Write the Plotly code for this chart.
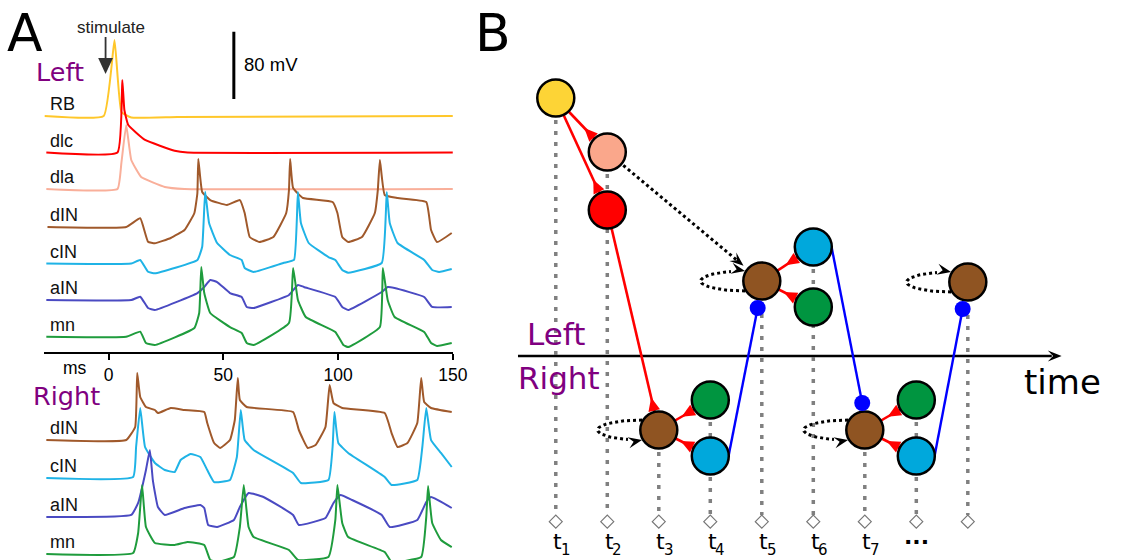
import math
import numpy as np
import plotly.graph_objects as go

W, H = 1124, 560

# ======================= Panel A data (time in ms, voltage in mV re rest) =======================
rb_t = [-27.9, -2.1, 2.6, 5.6, 9.9, 30.0, 150.0]
rb_v = [0, 0, 90.5, 4.8, -1.8, -1.2, 0]

dlc_t = [-27.1, 3.9, 6.0, 6.9, 8.6, 15.9, 28.8, 34.4, 150.0]
dlc_v = [0, 0, 86.3, 50.6, 32.7, 14.9, 2.1, 0, 0]

dla_t = [-27.1, 3.9, 5.6, 7.7, 9.9, 14.2, 24.5, 33.1, 150.0]
dla_v = [0, 0, 31.0, 76.2, 34.5, 14.3, 2.4, 0, 0]

l_din_t = [-26.6, 7.7, 13.8, 17.2, 20.2, 27.1, 33.1, 37.4, 38.7, 39.1, 40.8, 44.3, 51.6, 57.2,
           59.3, 61.5, 65.7, 71.8, 77.4, 78.6, 79.1, 80.4, 84.7, 97.6, 99.7, 101.8, 104.4, 110.4,
           116.0, 117.3, 118.2, 120.3, 125.9, 138.4, 140.5, 143.1, 149.5]
l_din_v = [0, 0, 10.4, -17.5, -19.4, -13.1, -3.6, 16.7, 40.5, 81.0, 41.7, 32.1, 26.2, 32.1,
           16.7, -11.9, -17.9, -11.9, 16.7, 44.0, 81.0, 46.4, 34.5, 29.8, 16.7, -11.9, -17.9, -11.9,
           16.7, 44.0, 79.8, 38.1, 34.5, 29.8, -3.6, -17.9, -7.1]

l_cin_t = [-27.1, 9.9, 13.8, 17.2, 20.2, 38.7, 40.8, 42.1, 43.8, 47.3, 52.9, 58.0, 59.3, 63.2,
           76.1, 80.8, 82.5, 83.8, 87.2, 95.8, 98.8, 101.8, 104.4, 119.0, 121.2, 122.5, 125.9,
           137.5, 141.0, 144.0, 149.5]
l_cin_v = [0, 0, 4.2, -9.8, -11.7, 4.2, 20.0, 85.4, 48.2, 24.4, 10.1, 4.2, -5.4, -10.1,
           0.6, 4.2, 85.1, 48.2, 24.4, 7.7, 4.2, -7.7, -10.9, 0.6, 85.1, 48.2, 24.4,
           4.2, -7.7, -10.1, -6.5]

l_ain_t = [-27.1, 9.9, 13.8, 17.2, 20.2, 38.7, 41.7, 44.3, 47.3, 52.9, 58.0, 60.2, 63.2, 78.6,
           82.5, 85.1, 98.8, 101.8, 104.4, 119.0, 121.6, 124.6, 137.5, 141.0, 149.5]
l_ain_v = [0, 0, 3.9, -9.5, -11.9, 8.3, 15.5, 23.8, 21.4, 8.3, 3.6, -8.3, -9.5, 6.0,
           17.9, 15.5, 3.6, -8.3, -11.9, 9.5, 15.5, 14.3, 3.6, -8.3, -8.3]

l_mn_t = [-27.1, 7.7, 13.8, 16.3, 20.2, 37.4, 39.5, 40.4, 41.7, 44.3, 52.9, 58.0, 60.2, 63.2,
          78.6, 80.4, 82.5, 85.9, 98.8, 102.3, 104.4, 118.2, 119.5, 121.6, 124.6, 137.5, 140.5,
          143.1, 149.5]
l_mn_v = [0, 0, 6.0, -7.5, -9.9, 10.4, 28.2, 82.9, 52.0, 28.2, 11.5, 4.4, -7.5, -9.9,
          16.3, 81.8, 43.7, 23.4, 5.6, -9.9, -12.3, 11.5, 81.8, 43.7, 23.4, 5.6, -7.5,
          -11.1, -7.5]

r_din_t = [-27.1, 7.7, 11.6, 12.5, 13.8, 16.3, 20.2, 21.5, 27.1, 33.1, 41.7, 43.0, 46.0, 48.6,
           52.9, 55.0, 56.3, 57.2, 60.2, 80.4, 82.9, 86.8, 90.2, 94.5, 96.3, 98.0, 101.8, 120.3,
           123.3, 125.9, 130.2, 134.5, 136.2, 137.5, 140.5, 149.5]
r_din_v = [0, 0, 15.5, 79.8, 51.2, 39.3, 35.7, 32.1, 38.1, 35.7, 33.3, 20.2, -3.6, -9.5,
           0, 23.8, 73.8, 47.6, 39.3, 33.3, 11.9, -9.5, -6.0, 15.5, 65.5, 44.0, 38.1, 32.1,
           8.3, -8.3, -3.6, 20.2, 73.8, 45.2, 38.1, 33.3]

r_cin_t = [-27.1, 10.7, 12.0, 13.8, 15.9, 20.2, 24.5, 28.8, 31.4, 35.7, 40.0, 43.0, 46.0, 52.9,
           55.9, 57.6, 59.3, 63.2, 80.4, 83.8, 95.8, 97.6, 98.4, 100.1, 104.4, 120.3, 123.3,
           134.5, 136.7, 138.4, 140.5, 144.8, 149.5]
r_cin_v = [0, 1.2, 36.9, 83.3, 36.9, 17.9, 9.5, 7.1, 21.4, 28.6, 25.0, 9.5, -4.8, -2.4,
           25.0, 81.0, 45.2, 33.3, 6.0, -6.0, -2.4, 36.9, 78.5, 41.7, 29.8, 1.2, -8.3,
           -2.4, 36.9, 83.3, 45.2, 29.8, 13.1]

r_ain_t = [-27.1, 9.9, 12.9, 16.3, 18.0, 19.3, 21.5, 24.5, 33.1, 40.0, 41.7, 43.4, 47.3, 54.6,
           57.2, 61.0, 67.5, 80.4, 82.9, 94.5, 98.0, 101.0, 106.1, 119.0, 122.5, 134.5, 138.4,
           140.5, 149.5]
r_ain_v = [0, 2.4, 16.7, 56.0, 79.8, 44.0, 11.9, 2.4, 10.7, 14.3, 10.7, -9.5, -11.9, -3.6,
           11.9, 28.6, 23.8, 2.4, -9.5, -1.2, 16.7, 26.2, 20.2, 2.4, -11.9, -3.6, 17.9,
           23.8, 10.7]

r_mn_t = [-27.1, 10.7, 12.9, 14.6, 16.3, 20.2, 28.8, 34.4, 41.7, 44.3, 47.3, 54.6, 57.2, 58.9,
          61.0, 63.2, 78.6, 82.5, 95.8, 98.8, 99.7, 101.8, 104.4, 120.3, 123.3, 136.2, 138.4,
          139.2, 141.0, 144.8, 149.5]
r_mn_v = [0, 1.2, 25.0, 82.1, 32.1, 13.1, 10.7, 14.3, 10.7, -7.1, -9.5, -3.6, 32.1, 82.1,
          32.1, 20.2, 4.8, -7.1, -3.6, 40.5, 82.1, 36.9, 20.2, 2.4, -9.5, -3.6, 44.0,
          80.9, 36.9, 16.7, 8.3]

left_names = ["RB", "dlc", "dla", "dIN", "cIN", "aIN", "mn"]
right_names = ["dIN", "cIN", "aIN", "mn"]
left_series = [(rb_t, rb_v), (dlc_t, dlc_v), (dla_t, dla_v), (l_din_t, l_din_v),
               (l_cin_t, l_cin_v), (l_ain_t, l_ain_v), (l_mn_t, l_mn_v)]
right_series = [(r_din_t, r_din_v), (r_cin_t, r_cin_v), (r_ain_t, r_ain_v), (r_mn_t, r_mn_v)]
ms_ticks = [0, 50, 100, 150]
scale_bar_mV = 80

# ----- styles / layout (panel A) -----
trace_colors = {"RB": "#FFC72A", "dlc": "#FF0000", "dla": "#F9AF9A", "dIN": "#A0592B",
                "cIN": "#1FB3E6", "aIN": "#4A4AC2", "mn": "#1F9C3D"}
PX_PER_MV = 0.84
left_base_px = [116, 152.5, 189, 227, 263.5, 300, 336.7]
right_base_px = [440, 478, 517, 554]
X_AXIS_PX = 353


def base_to_mv(p):
    return (H - p) / PX_PER_MV


def P(x, y):
    return x / W, 1 - y / H


fig = go.Figure()
annotations = []
LABEL_FONT = dict(family="Liberation Sans", size=18, color="#111")

for names, series, bases in [(left_names, left_series, left_base_px),
                             (right_names, right_series, right_base_px)]:
    for name, (tt, vv), bp in zip(names, series, bases):
        off = base_to_mv(bp)
        fig.add_trace(go.Scatter(x=tt, y=[off + v for v in vv], mode="lines",
                                 line=dict(color=trace_colors[name], width=2, shape="spline",
                                           smoothing=0.35),
                                 xaxis="x", yaxis="y", hoverinfo="skip"))
        annotations.append(dict(text=name, xref="paper", yref="y", x=49 / W, y=off, yshift=12,
                                xanchor="left", yanchor="middle", showarrow=False, font=LABEL_FONT))

# scale bar
sb_x = (237 - 110) / 2.3267
sb_y0 = base_to_mv(99)
fig.add_trace(go.Scatter(x=[sb_x, sb_x], y=[sb_y0, sb_y0 + scale_bar_mV], mode="lines",
                         line=dict(color="black", width=3), xaxis="x", yaxis="y", hoverinfo="skip"))

# ======================= Panel B data (diagram) =======================
node_t = [1, 2, 2, 5, 6, 6, 3, 4, 4, 7, 8, 8, 9]
node_level = [462, 408, 350, 279, 313, 253, 130, 160, 104, 130, 160, 104, 278]
node_kind = ["RB", "dla", "dlc", "dIN", "cIN", "mn", "dIN", "mn", "cIN", "dIN", "mn", "cIN", "dIN"]
excit_edges = [(0, 1), (0, 2), (2, 6), (3, 4), (3, 5), (6, 7), (6, 8), (9, 10), (9, 11)]
inhib_src = [8, 4, 11]
dot_t = [4.92, 6.95, 8.9]
dot_level = [252, 157, 251]
dotted_edges = [(1, 3)]
loop_nodes = [3, 6, 9, 12]
loop_arrow_top = [True, False, False, True]
step_t = [1, 2, 3, 4, 5, 6, 7, 8, 9]
step_sub = ["1", "2", "3", "4", "5", "6", "7", None, None]
ellipsis_step = 8

node_colors = {"RB": "#FDD436", "dla": "#FAA78B", "dlc": "#FF0000", "dIN": "#8F5422",
               "cIN": "#00A8DC", "mn": "#009540"}

PX0, PXS = 563.3, 52.2
R = 19.5


def to_px(t, lv):
    return PX0 + PXS * (t - 1), H - lv


def to_data(px, py):
    return 1 + (px - PX0) / PXS, H - py


def add_poly(pts, color):
    d = [to_data(*p) for p in pts]
    fig.add_trace(go.Scatter(x=[q[0] for q in d], y=[q[1] for q in d], mode="lines",
                             fill="toself", fillcolor=color, line=dict(width=0, color=color),
                             xaxis="x2", yaxis="y2", hoverinfo="skip"))


def add_line(pts, color, width, dash="solid"):
    d = [to_data(*p) for p in pts]
    fig.add_trace(go.Scatter(x=[q[0] for q in d], y=[q[1] for q in d], mode="lines",
                             line=dict(color=color, width=width, dash=dash),
                             xaxis="x2", yaxis="y2", hoverinfo="skip"))


def stealth(tip, d, L=14, Wd=11, notch=0.62):
    dx, dy = d
    nx, ny = -dy, dx
    return [tip,
            (tip[0] - L * dx + Wd / 2 * nx, tip[1] - L * dy + Wd / 2 * ny),
            (tip[0] - notch * L * dx, tip[1] - notch * L * dy),
            (tip[0] - L * dx - Wd / 2 * nx, tip[1] - L * dy - Wd / 2 * ny),
            tip]


def unit(a, b):
    dx, dy = b[0] - a[0], b[1] - a[1]
    n = math.hypot(dx, dy)
    return dx / n, dy / n


npx = [to_px(t, lv) for t, lv in zip(node_t, node_level)]
dpx = [to_px(t, lv) for t, lv in zip(dot_t, dot_level)]

# stimulate arrow (panel A, drawn on the full-canvas overlay)
add_line([(107, 37), (107, 62)], "#333333", 1.8)
add_poly(stealth((107, 74), (0, 1), L=16, Wd=15, notch=1.0), "#333333")

# Left/Right divider with arrow (time axis)
ax_y = 356
add_line([(525, ax_y), (1066, ax_y)], "black", 2.5)
add_poly(stealth((1076, ax_y), (1, 0), L=14, Wd=11), "black")

# gray dotted vertical guides
for t in step_t:
    tops = [lv for nt, lv in zip(node_t, node_level) if nt == t]
    top_px = to_px(t, max(tops))
    add_line([top_px, (top_px[0], 515)], "#808080", 3.5, dash="4px,7px")

# diamonds
fig.add_trace(go.Scatter(x=step_t, y=[H - 521.7] * len(step_t), mode="markers",
                         marker=dict(symbol="diamond-open", size=10, color="#777",
                                     line=dict(width=1.2, color="#777")),
                         xaxis="x2", yaxis="y2", hoverinfo="skip"))

# excitatory red edges
for s, d in excit_edges:
    S, D = npx[s], npx[d]
    add_line([S, D], "#FF0000", 2.6)
    u = unit(D, S)
    nx, ny = -u[1], u[0]
    b = (D[0] + u[0] * (R + 0.5), D[1] + u[1] * (R + 0.5))
    a = (D[0] + u[0] * (R + 14), D[1] + u[1] * (R + 14))
    add_poly([a, (b[0] + 6 * nx, b[1] + 6 * ny), (b[0] - 6 * nx, b[1] - 6 * ny), a], "#FF0000")

# inhibitory blue edges
for s, dp in zip(inhib_src, dpx):
    S = npx[s]
    add_line([(S[0] + R - 1, S[1]), dp], "#0000FF", 2.4)

# dotted black arrows
for s, d in dotted_edges:
    S, D = npx[s], npx[d]
    u = unit(S, D)
    st = (S[0] + u[0] * 21, S[1] + u[1] * 21)
    tip = (D[0] - u[0] * 24, D[1] - u[1] * 24)
    add_line([st, (tip[0] - u[0] * 8, tip[1] - u[1] * 8)], "black", 3, dash="3px,3px")
    add_poly(stealth(tip, u), "black")

# self loops
for ni, top in zip(loop_nodes, loop_arrow_top):
    cx, cy = npx[ni]
    phis = np.linspace(90, -90, 40) if top else np.linspace(-90, 90, 40)
    pts = [(cx - 17 - 45 * math.cos(math.radians(p)), cy + 10 * math.sin(math.radians(p)))
           for p in phis]
    tip = pts[-1]
    dv = (1, 0.2 if (cy - tip[1]) > 0 else -0.2)
    nrm = math.hypot(*dv)
    dv = (dv[0] / nrm, dv[1] / nrm)
    add_line(pts[:-4], "black", 3, dash="3px,3px")
    add_poly(stealth(tip, dv), "black")

# neuron circles
fig.add_trace(go.Scatter(x=node_t, y=node_level, mode="markers",
                         marker=dict(size=37, color=[node_colors[k] for k in node_kind],
                                     line=dict(color="black", width=2.5)),
                         xaxis="x2", yaxis="y2", hoverinfo="skip"))
# inhibitory synapse dots
fig.add_trace(go.Scatter(x=dot_t, y=dot_level, mode="markers",
                         marker=dict(size=16, color="#0000FF", line=dict(width=0)),
                         xaxis="x2", yaxis="y2", hoverinfo="skip"))

# ======================= Text =======================
def txt(s, x, y, size, family="DejaVu Sans", color="black", xanchor="center", weight="normal"):
    px, py = P(x, y)
    annotations.append(dict(text=s, xref="paper", yref="paper", x=px, y=py, xanchor=xanchor,
                            yanchor="middle", showarrow=False,
                            font=dict(family=family, size=size, color=color, weight=weight)))


txt("A", 25, 33, 52)
txt("B", 500, 33, 52)
txt("stimulate", 112, 27, 17, family="Liberation Sans", color="#222")
txt("80 mV", 245, 64, 18.5, family="Liberation Sans", xanchor="left")
txt("Left", 61, 72, 25.5, color="#800080")
txt("Right", 67, 396, 25.5, color="#800080")
txt("ms", 76, 368, 17.5, family="Liberation Sans")
txt("Left", 564, 334, 31, color="#800080")
txt("Right", 567, 378, 31, color="#800080")
txt("time", 1077, 382, 34)
for t, sub in zip(step_t, step_sub):
    x, _ = to_px(t, 0)
    if sub is not None:
        txt("t", x + 2, 541, 22)
        txt(sub, x + 10, 550, 15)
    elif t == ellipsis_step:
        txt("...", x, 536, 22, weight="bold")

xr2 = [to_data(0, 0)[0], to_data(W, 0)[0]]
fig.update_layout(
    width=W, height=H, autosize=False, margin=dict(l=0, r=0, t=0, b=0, pad=0),
    paper_bgcolor="white", plot_bgcolor="rgba(0,0,0,0)", showlegend=False,
    xaxis=dict(domain=[45 / W, 459 / W], range=[-27.94, 150], anchor="free",
               position=(H - X_AXIS_PX) / H, showline=True, linecolor="black", linewidth=2,
               ticks="outside", ticklen=6, tickwidth=1.5, tickcolor="black",
               tickvals=ms_ticks, ticktext=[str(v) for v in ms_ticks],
               tickfont=dict(family="Liberation Sans", size=17.5, color="black"),
               showgrid=False, zeroline=False, fixedrange=True),
    yaxis=dict(domain=[0, 1], range=[0, H / PX_PER_MV], visible=False, anchor="x",
               fixedrange=True),
    xaxis2=dict(domain=[0, 1], range=xr2, visible=False, anchor="y2", fixedrange=True),
    yaxis2=dict(domain=[0, 1], range=[0, H], visible=False, anchor="x2", fixedrange=True),
    annotations=annotations,
)

fig.write_html("out.html", config={"responsive": False, "displayModeBar": False})
